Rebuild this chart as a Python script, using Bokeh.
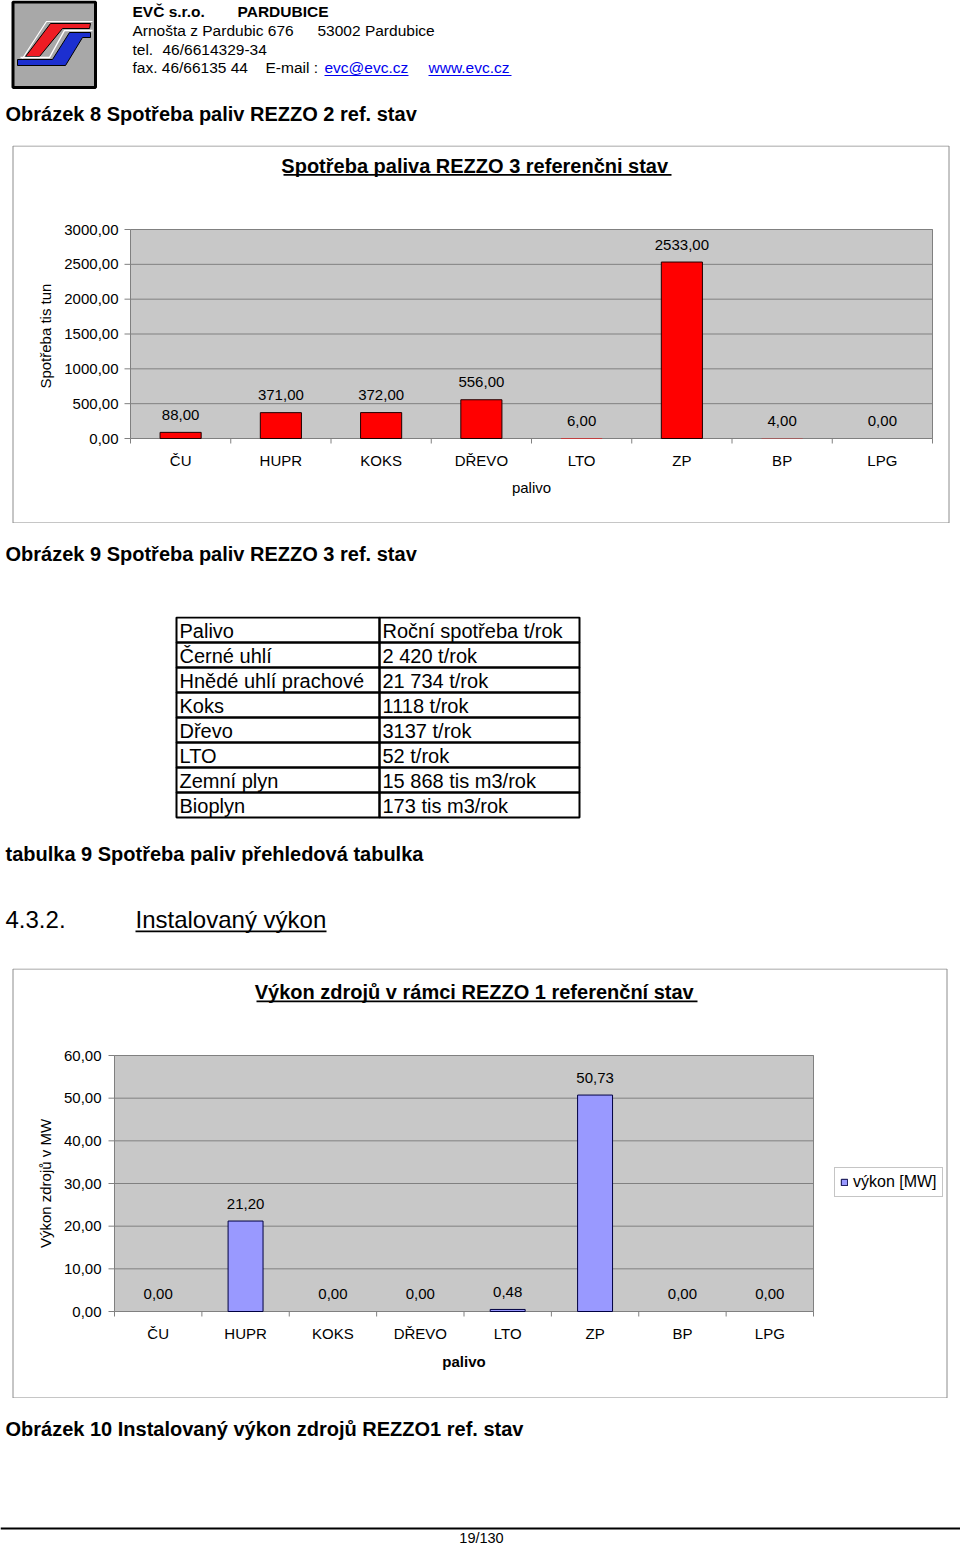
import math
from bokeh.plotting import figure
from bokeh.models import Range1d, Legend, LegendItem, ColumnDataSource
from bokeh.layouts import column
from bokeh.embed import file_html
from bokeh.resources import INLINE
from bokeh.core.properties import value

FONT = "Liberation Sans"

# ---------------- data ----------------
fuel_codes = ["ČU", "HUPR", "KOKS", "DŘEVO", "LTO", "ZP", "BP", "LPG"]
consumption = [88.0, 371.0, 372.0, 556.0, 6.0, 2533.0, 4.0, 0.0]
consumption_ticks = [0, 500, 1000, 1500, 2000, 2500, 3000]
power = [0.0, 21.20, 0.0, 0.0, 0.48, 50.73, 0.0, 0.0]
power_ticks = [0, 10, 20, 30, 40, 50, 60]
table_header = ["Palivo", "Roční spotřeba t/rok"]
table_fuels = ["Černé uhlí", "Hnědé uhlí prachové", "Koks", "Dřevo", "LTO",
               "Zemní plyn", "Bioplyn"]
table_amounts = ["2 420 t/rok", "21 734 t/rok", "1118 t/rok", "3137 t/rok",
                 "52 t/rok", "15 868 tis m3/rok", "173 tis m3/rok"]


def fmt(v):
    return f"{v:.2f}".replace(".", ",")


def base_fig(h, x_range, y_range):
    p = figure(width=960, height=h, x_range=x_range, y_range=y_range,
               output_backend="svg", toolbar_location=None, min_border=0,
               x_axis_type=None, y_axis_type=None)
    p.outline_line_color = None
    p.background_fill_color = "white"
    p.border_fill_color = "white"
    return p


def page_fig(top, h):
    # page-pixel coordinates (y grows downward)
    return base_fig(h, Range1d(0, 960), Range1d(top + h, top))


def txt(p, x, y, s, size, bold=False, color="black", align="left", angle=0.0, **kw):
    p.text(x=[x], y=[y], text=[s], text_font=value(FONT), text_font_size=f"{size}px",
           text_font_style="bold" if bold else "normal", text_color=color,
           text_align=align, text_baseline="middle", angle=angle, **kw)


# ---------------- header ----------------
hdr = page_fig(0, 145)
hdr.quad(left=[12.5], right=[95], top=[1.5], bottom=[87], fill_color="#A8A8A8",
         line_color="black", line_width=3)
hdr.patch(x=[50, 90, 89, 62, 39, 25], y=[23, 23, 28, 28, 56, 56],
          fill_color="#EE1C24", line_color="black", line_width=1)
hdr.patch(x=[17, 52, 69, 90, 90, 82, 65, 17], y=[59, 59, 32, 32, 37, 37, 65, 65],
          fill_color="#1C2FD0", line_color="black", line_width=1)
hdr.line(x=[20, 49, 64, 92], y=[57, 57, 30, 30], line_color="white", line_width=1.5)
hdr.line(x=[22, 46, 48, 92], y=[58, 21, 21, 21], line_color="white", line_width=1.2)

txt(hdr, 132, 11, "EVČ s.r.o.", 15.5, bold=True)
txt(hdr, 237, 11, "PARDUBICE", 15.5, bold=True)
txt(hdr, 132, 30, "Arnošta z Pardubic 676", 15.5)
txt(hdr, 317, 30, "53002 Pardubice", 15.5)
txt(hdr, 132, 48.5, "tel.", 15.5)
txt(hdr, 162, 48.5, "46/6614329-34", 15.5)
txt(hdr, 132, 67, "fax. 46/66135 44", 15.5)
txt(hdr, 265, 67, "E-mail :", 15.5)
txt(hdr, 324, 67, "evc@evc.cz", 15.5, color="#0000EE")
txt(hdr, 428, 67, "www.evc.cz", 15.5, color="#0000EE")
hdr.segment(x0=[324, 428], x1=[408, 511], y0=[75, 75], y1=[75, 75],
            line_color="#0000EE", line_width=1)
txt(hdr, 5, 113, "Obrázek 8 Spotřeba paliv REZZO 2 ref. stav", 20, bold=True)


# ---------------- bar chart ----------------
def bar_chart(top, h, inner, outer, values, ticks, fill, edge, bw, title, title_y,
              underline, ylabel, xlabel_bold, ytick_right, xlab_y, xtitle_y):
    L, R, T, B = inner  # page pixels of the plot area
    n = len(values)
    kx = (R - L) / n
    ky = (B - T) / (ticks[-1] - ticks[0])
    x0 = -0.5 - L / kx
    y0 = ticks[0] - (top + h - B) / ky
    p = base_fig(h, Range1d(x0, x0 + 960 / kx), Range1d(y0, y0 + h / ky))
    p.extra_x_ranges = {"px": Range1d(0, 960)}
    p.extra_y_ranges = {"px": Range1d(top + h, top)}

    ol, orr, ot, ob = outer
    p.quad(left=[ol], right=[orr], top=[ot], bottom=[ob], x_range_name="px",
           y_range_name="px", fill_color=None, line_color="#8C8C8C", line_width=1)

    idx = list(range(n))
    bounds = [i - 0.5 for i in range(n + 1)]
    # plot area
    p.quad(left=[bounds[0]], right=[bounds[-1]], bottom=[ticks[0]], top=[ticks[-1]],
           fill_color="#C8C8C8", line_color="#808080", line_width=1)
    # grid lines
    p.segment(x0=[bounds[0]] * len(ticks), x1=[bounds[-1]] * len(ticks), y0=ticks,
              y1=ticks, line_color="#808080", line_width=1)
    # y ticks & labels
    p.segment(x0=[L - 6] * len(ticks), x1=[L] * len(ticks), y0=ticks, y1=ticks,
              x_range_name="px", line_color="#808080", line_width=1)
    p.text(x=[ytick_right] * len(ticks), y=ticks, text=[fmt(t) for t in ticks],
           x_range_name="px", text_font=value(FONT), text_font_size="15px",
           text_align="right", text_baseline="middle", text_color="black")
    # x ticks (category boundaries) & labels
    p.segment(x0=bounds, x1=bounds, y0=[B] * len(bounds), y1=[B + 5] * len(bounds),
              y_range_name="px", line_color="#808080", line_width=1)
    p.text(x=idx, y=[xlab_y] * n, text=fuel_codes, y_range_name="px",
           text_font=value(FONT), text_font_size="15px", text_align="center",
           text_baseline="middle", text_color="black")

    # bars thinner than a pixel show no border (as in the original)
    edge_alpha = [1.0 if abs(v) * ky >= 1 else 0.0 for v in values]
    src = ColumnDataSource(dict(x=idx, top=values, label=[fmt(v) for v in values],
                                ea=edge_alpha))
    r = p.vbar(x="x", top="top", bottom=ticks[0], width=bw, fill_color=fill,
               line_color=edge, line_alpha="ea", line_width=1, source=src)
    p.text(x="x", y="top", text="label", source=src, y_offset=-17.5, text_align="center",
           text_baseline="middle", text_font=value(FONT), text_font_size="15px",
           text_color="black")

    # axis titles and chart title (page pixels)
    txt(p, (L + R) / 2, xtitle_y, "palivo", 15, bold=xlabel_bold, align="center",
        x_range_name="px", y_range_name="px")
    txt(p, 45, (T + B) / 2, ylabel, 15, align="center", angle=math.pi / 2,
        x_range_name="px", y_range_name="px")
    ux0, ux1, uy = underline
    txt(p, (ux0 + ux1) / 2, title_y, title, 20, bold=True, align="center",
        x_range_name="px", y_range_name="px")
    p.quad(left=[ux0], right=[ux1], top=[uy], bottom=[uy + 1.7], x_range_name="px",
           y_range_name="px", fill_color="black", line_color=None)
    return p, r, max(range(n), key=lambda i: values[i])


# chart 1 : page y 145..523, plot area x 130..932, y 229..438
c1, _, _ = bar_chart(145, 378, (130, 932, 229, 438), (12.5, 948.5, 145.5, 522.5),
                     consumption, consumption_ticks, "#FF0000", "#200000", 0.41,
                     "Spotřeba paliva  REZZO 3 referenčni stav", 165.5, (283, 671, 173.5),
                     "Spotřeba tis  tun", False, 118, 459.5, 487)

# ---------------- middle 1 ----------------
m1 = page_fig(523, 93)
txt(m1, 5, 553, "Obrázek 9 Spotřeba paliv REZZO 3 ref. stav", 20, bold=True)

# ---------------- table ----------------
col_edges = [176, 379, 579]
tb = base_fig(203, Range1d(0, 960), Range1d(8.08, -0.04))
rows = [table_header] + [[a, b] for a, b in zip(table_fuels, table_amounts)]
cl, cr, ct, cb, ctext, cx, cy = [], [], [], [], [], [], []
for i, row in enumerate(rows):
    for j, cell in enumerate(row):
        cl.append(col_edges[j]); cr.append(col_edges[j + 1])
        ct.append(i); cb.append(i + 1)
        ctext.append(cell); cx.append(col_edges[j]); cy.append(i + 0.5)
tsrc = ColumnDataSource(dict(l=cl, r=cr, t=ct, b=cb, text=ctext, x=cx, y=cy))
tb.quad(left="l", right="r", top="t", bottom="b", source=tsrc, fill_color=None,
        line_color="black", line_width=2)
tb.text(x="x", y="y", text="text", source=tsrc, x_offset=3, y_offset=1,
        text_font=value(FONT), text_font_size="20px", text_baseline="middle",
        text_align="left", text_color="black")

# ---------------- middle 2 ----------------
m2 = page_fig(819, 149)
txt(m2, 5, 853, "tabulka 9 Spotřeba  paliv  přehledová tabulka", 20, bold=True)
txt(m2, 5, 919, "4.3.2.", 24)
txt(m2, 135, 919, "Instalovaný výkon", 24)
m2.quad(left=[135], right=[326], top=[930], bottom=[931.7],
        fill_color="black", line_color=None)

# chart 2 : page y 968..1398, plot area x 114..813, y 1055..1311
c2, r2, big = bar_chart(968, 430, (114, 813, 1055, 1311), (12.5, 946.5, 968.5, 1397.5),
                        power, power_ticks, "#9999FF", "#000040", 0.4,
                        "Výkon zdrojů  v rámci REZZO 1 referenční stav", 991.5,
                        (256, 697, 1000), "Výkon zdrojů v MW", True, 101, 1333, 1361)
leg = Legend(items=[LegendItem(label="výkon [MW]", renderers=[r2], index=big)],
             location=(834, 1398 - 1197), orientation="vertical",
             padding=5, margin=0, spacing=0, glyph_width=8, glyph_height=8,
             label_height=16, label_width=20, label_standoff=5,
             label_text_font=FONT, label_text_font_size="16px",
             label_text_color="black", border_line_color="#8C8C8C",
             border_line_width=1, background_fill_color="white", background_fill_alpha=1)
c2.add_layout(leg)

# ---------------- footer ----------------
ft = page_fig(1398, 148)
txt(ft, 5, 1428, "Obrázek 10 Instalovaný výkon  zdrojů REZZO1 ref. stav", 20, bold=True)
ft.segment(x0=[0], x1=[960], y0=[1528], y1=[1528], line_color="black", line_width=2)
txt(ft, 481, 1537, "19/130", 14.5, align="center")

page = column(hdr, c1, m1, tb, m2, c2, ft, spacing=0)
open("out.html", "w").write(file_html(page, INLINE))
